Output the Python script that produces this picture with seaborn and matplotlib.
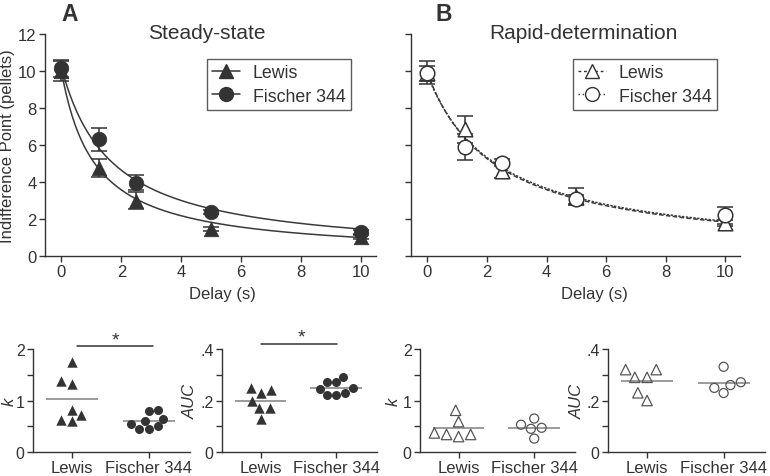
import numpy as np
import pandas as pd
import seaborn as sns
import matplotlib.pyplot as plt
from matplotlib.lines import Line2D

# ---- data ----
delays = [0, 1.25, 2.5, 5, 10]

# steady-state indifference points (mean, sem)
ss_lewis = [10.0, 4.75, 3.0, 1.45, 1.03]
ss_lewis_err = [0.55, 0.5, 0.45, 0.12, 0.1]
ss_f344 = [10.15, 6.3, 3.97, 2.37, 1.3]
ss_f344_err = [0.45, 0.6, 0.42, 0.12, 0.1]

# rapid-determination indifference points (mean, sem)
rd_lewis = [9.9, 6.85, 4.6, 3.2, 1.77]
rd_lewis_err = [0.62, 0.72, 0.38, 0.45, 0.15]
rd_f344 = [9.87, 5.88, 5.05, 3.07, 2.2]
rd_f344_err = [0.4, 0.7, 0.2, 0.25, 0.45]

# hyperbolic fits V = A / (1 + kD)
ss_lewis_fit = (10.0, 0.90)
ss_f344_fit = (10.2, 0.60)
rd_lewis_fit = (9.9, 0.44)
rd_f344_fit = (9.8, 0.42)

# individual rats
ss_k_lewis = [1.75, 1.37, 1.32, 0.72, 0.61, 0.63, 0.82]
ss_k_f344 = [0.61, 0.79, 0.65, 0.81, 0.50, 0.45, 0.45, 0.54]
ss_auc_lewis = [0.23, 0.25, 0.24, 0.20, 0.17, 0.17, 0.13]
ss_auc_f344 = [0.25, 0.273, 0.27, 0.293, 0.229, 0.22, 0.22, 0.244]
rd_k_lewis = [0.81, 0.59, 0.34, 0.30, 0.34, 0.37]
rd_k_f344 = [0.53, 0.47, 0.45, 0.65, 0.26]
rd_auc_lewis = [0.32, 0.29, 0.29, 0.32, 0.20, 0.23]
rd_auc_f344 = [0.331, 0.26, 0.229, 0.249, 0.271]

strains = ['Lewis', 'Fischer 344']

# ---- style ----
sns.set_style('ticks')
dark = '#333333'
plt.rcParams['font.family'] = ['Liberation Sans', 'DejaVu Sans']
plt.rcParams['text.color'] = dark
plt.rcParams['axes.labelcolor'] = dark
plt.rcParams['axes.edgecolor'] = dark
plt.rcParams['xtick.color'] = dark
plt.rcParams['ytick.color'] = dark
plt.rcParams['axes.linewidth'] = 1.0

fig = plt.figure(figsize=(7.7, 4.77), dpi=100)
axA = fig.add_axes([0.0584, 0.4612, 0.4299, 0.4654])
axB = fig.add_axes([0.5338, 0.4612, 0.4273, 0.4654])
ax_k1 = fig.add_axes([0.0429, 0.0503, 0.2039, 0.2159])
ax_a1 = fig.add_axes([0.2883, 0.0503, 0.2013, 0.2159])
ax_k2 = fig.add_axes([0.5455, 0.0503, 0.2013, 0.2159])
ax_a2 = fig.add_axes([0.7896, 0.0503, 0.2039, 0.2159])

xx = np.linspace(0, 10, 200)


def curve_df(params):
    A, k = params
    return pd.DataFrame({'delay': xx, 'ip': A / (1 + k * xx)})


def top_panel(ax, series, title, title_x, letter, letter_x, xlab_x, open_markers):
    for vals, errs, fitp, marker, ls in series:
        df = curve_df(fitp)
        sns.lineplot(data=df, x='delay', y='ip', ax=ax, color='#3a3a3a',
                     lw=1.1, linestyle=ls)
        ax.errorbar(delays, vals, yerr=errs, fmt='none', ecolor=dark, elinewidth=1.1,
                    capsize=6, capthick=1.1, zorder=3)
        pts = pd.DataFrame({'delay': delays, 'ip': vals})
        if open_markers:
            sns.scatterplot(data=pts, x='delay', y='ip', ax=ax, marker=marker, s=110,
                            facecolor='white', edgecolor=dark, linewidth=1.1, zorder=4)
        else:
            sns.scatterplot(data=pts, x='delay', y='ip', ax=ax, marker=marker, s=110,
                            color=dark, edgecolor=dark, linewidth=0.5, zorder=4)
    ax.set_xlim(-0.55, 10.5)
    ax.set_ylim(0, 12)
    ax.set_xticks([0, 2, 4, 6, 8, 10])
    ax.set_yticks(range(0, 13, 2))
    ax.tick_params(labelsize=12, length=4, width=1, pad=2)
    ax.set_xlabel('Delay (s)', fontsize=12)
    ax.xaxis.set_label_coords(xlab_x, -0.135)
    sns.despine(ax=ax)
    ax.text(title_x, 0.982, title, transform=ax.transAxes, ha='center', va='baseline',
            fontsize=15)
    ax.text(letter_x, 1.063, letter, transform=ax.transAxes, ha='center', va='baseline',
            fontsize=16.5, fontweight='bold')


top_panel(axA, [(ss_lewis, ss_lewis_err, ss_lewis_fit, '^', '-'),
                (ss_f344, ss_f344_err, ss_f344_fit, 'o', '-')],
          'Steady-state', 0.489, 'A', 0.0755, 0.535, False)
axA.set_ylabel('Indifference Point (pellets)', fontsize=12)
axA.yaxis.set_label_coords(-0.09, 0.5)

top_panel(axB, [(rd_lewis, rd_lewis_err, rd_lewis_fit, '^', (0, (3, 1.5))),
                (rd_f344, rd_f344_err, rd_f344_fit, 'o', (0, (1.5, 1)))],
          'Rapid-determination', 0.523, 'B', 0.10, 0.556, True)
axB.set_ylabel('')
axB.set_yticklabels([])

# legends
hA = [Line2D([], [], color=dark, lw=1.1, marker='^', ms=10),
      Line2D([], [], color=dark, lw=1.1, marker='o', ms=10)]
legA = axA.legend(hA, strains, loc='upper right', bbox_to_anchor=(0.924, 0.887),
                  borderaxespad=0, fontsize=12.8, frameon=True, fancybox=False,
                  edgecolor=dark, handlelength=1.6, handletextpad=0.7, borderpad=0.3,
                  labelspacing=0.35)
legA.get_frame().set_linewidth(1.0)
hB = [Line2D([], [], color=dark, lw=1.0, ls=(0, (2, 2)), marker='^', ms=10, mfc='white'),
      Line2D([], [], color=dark, lw=1.0, ls=(0, (1, 2)), marker='o', ms=10, mfc='white')]
legB = axB.legend(hB, strains, loc='upper right', bbox_to_anchor=(0.930, 0.887),
                  borderaxespad=0, fontsize=12.8, frameon=True, fancybox=False,
                  edgecolor=dark, handlelength=1.6, handletextpad=0.7, borderpad=0.3,
                  labelspacing=0.35)
legB.get_frame().set_linewidth(1.0)


def dot_panel(ax, lewis, f344, ylab, label_x, ymax, yticks, ylabels, open_markers):
    for vals, name, marker, size in [(lewis, 'Lewis', '^', 7.5), (f344, 'Fischer 344', 'o', 6.5)]:
        df = pd.DataFrame({'strain': name, 'val': vals})
        n_before = len(ax.collections)
        sns.swarmplot(data=df, x='strain', y='val', order=strains, ax=ax, marker=marker,
                      color=dark, size=size)
        if open_markers:
            for coll in ax.collections[n_before:]:
                coll.set_facecolor('none')
                coll.set_edgecolor('#555555')
                coll.set_linewidth(0.9)
        pos = strains.index(name)
        ax.hlines(np.mean(vals), pos - 0.34, pos + 0.34, color='#8a8a8a', lw=1.2, zorder=0)
    ax.set_xlim(-0.51, 1.54)
    ax.set_ylim(0, ymax)
    ax.set_yticks(yticks)
    ax.set_yticklabels(ylabels)
    ax.set_xlabel('')
    ax.set_ylabel(ylab, fontsize=12, style='italic')
    ax.yaxis.set_label_coords(label_x, 0.5)
    ax.tick_params(axis='x', labelsize=12, length=4, width=1, pad=2)
    ax.tick_params(axis='y', labelsize=11.5, length=4, width=1, pad=2)
    sns.despine(ax=ax)


k_ticks = [0, 0.5, 1, 1.5, 2]
k_labels = ['0', '', '1', '', '2']
a_ticks = [0, 0.1, 0.2, 0.3, 0.4]
a_labels = ['0', '', '.2', '', '.4']

dot_panel(ax_k1, ss_k_lewis, ss_k_f344, 'k', -0.105, 2, k_ticks, k_labels, False)
dot_panel(ax_a1, ss_auc_lewis, ss_auc_f344, 'AUC', -0.155, 0.4, a_ticks, a_labels, False)
dot_panel(ax_k2, rd_k_lewis, rd_k_f344, 'k', -0.125, 2, k_ticks, k_labels, True)
dot_panel(ax_a2, rd_auc_lewis, rd_auc_f344, 'AUC', -0.15, 0.4, a_ticks, a_labels, True)

# significance markers
ax_k1.plot([0.07, 1.05], [2.06, 2.06], color=dark, lw=1.1, clip_on=False)
ax_k1.text(0.57, 2.02, '*', ha='center', va='bottom', fontsize=14)
ax_a1.plot([0.01, 1.01], [0.42, 0.42], color=dark, lw=1.1, clip_on=False)
ax_a1.text(0.54, 0.412, '*', ha='center', va='bottom', fontsize=14)

fig.savefig('out.png', dpi=100)
